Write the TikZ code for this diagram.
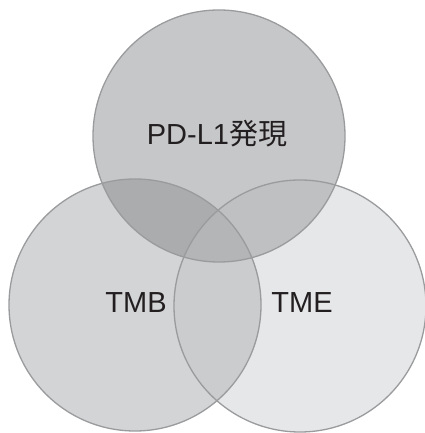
\documentclass[tikz,border=0pt]{standalone}
\usepackage{fontspec}
\setmainfont{Liberation Sans}
\newfontfamily\cjk{Noto Sans CJK JP}
\usetikzlibrary{positioning}
\definecolor{topfill}{HTML}{C6C7C9}
\definecolor{leftfill}{HTML}{D3D4D6}
\definecolor{rightfill}{HTML}{E6E7E9}
\definecolor{tlfill}{HTML}{ABACAE}
\definecolor{trfill}{HTML}{BFC0C2}
\definecolor{lrfill}{HTML}{CBCCCE}
\definecolor{allfill}{HTML}{B4B5B7}
\definecolor{ringline}{HTML}{9A9B9D}
\definecolor{inktext}{HTML}{231F20}

\begin{document}
\begin{tikzpicture}[x=1pt, y=1pt,
  ring/.style={draw=ringline, line width=1.3pt},
  lbl/.style={font=\fontsize{29}{34}\selectfont, text=inktext},
]
  \useasboundingbox (0,0) rectangle (424,433);
  % circle centres
  \coordinate (ctop) at (219,297);
  \coordinate (cleft) at (135,128);
  \coordinate (cright) at (300,127);
  \def\rad{126}
  % single regions
  \fill[topfill] (ctop) circle (\rad);
  \fill[leftfill] (cleft) circle (\rad);
  \fill[rightfill] (cright) circle (\rad);
  % pairwise overlaps
  \begin{scope}
    \clip (ctop) circle (\rad);
    \fill[tlfill] (cleft) circle (\rad);
    \fill[trfill] (cright) circle (\rad);
  \end{scope}
  \begin{scope}
    \clip (cleft) circle (\rad);
    \fill[lrfill] (cright) circle (\rad);
  \end{scope}
  % triple overlap
  \begin{scope}
    \clip (ctop) circle (\rad);
    \clip (cleft) circle (\rad);
    \fill[allfill] (cright) circle (\rad);
  \end{scope}
  % outlines
  \draw[ring] (ctop) circle (\rad);
  \draw[ring] (cleft) circle (\rad);
  \draw[ring] (cright) circle (\rad);
  % labels
  \node[lbl] (pdl) at (217,299) {PD-L1{\cjk 発現}};
  \node[lbl] (tmb) at (136,130) {TMB};
  \node[lbl] (tme) at (302,130) {TME};
\end{tikzpicture}
\end{document}
